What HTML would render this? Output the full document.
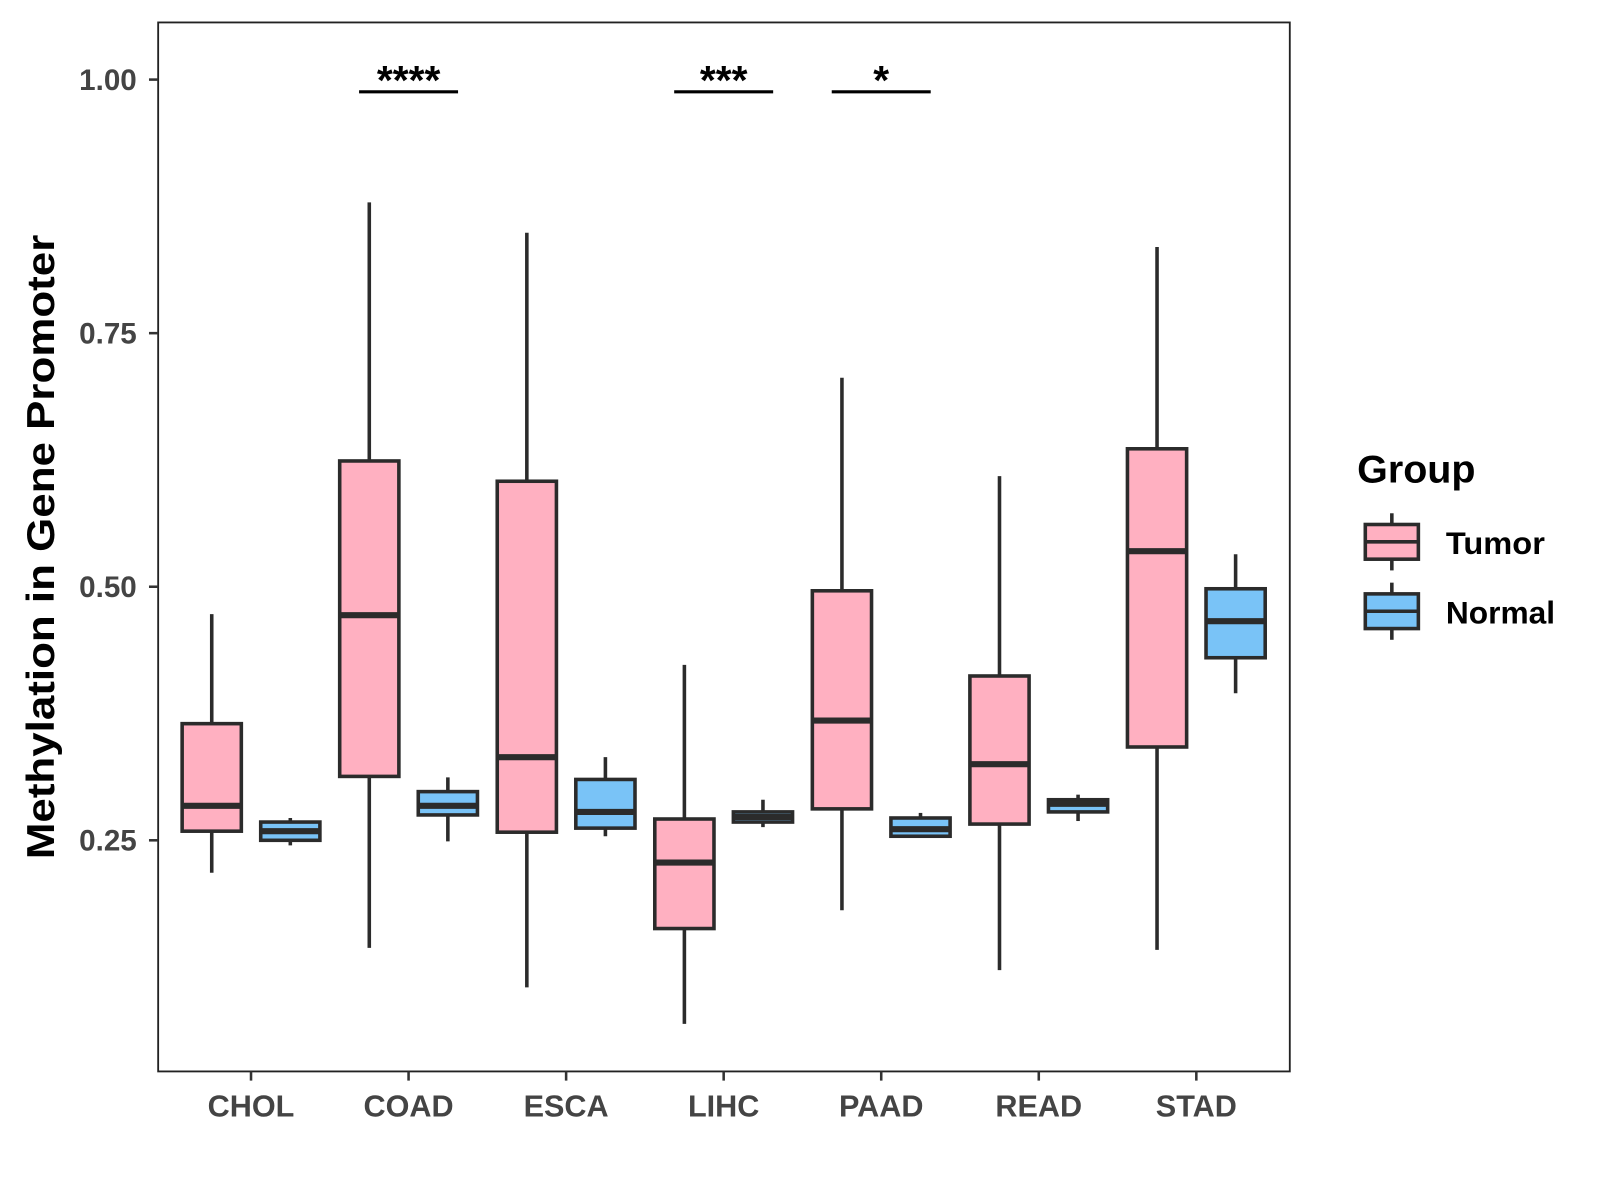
<!DOCTYPE html>
<html><head><meta charset="utf-8"><style>html,body{margin:0;padding:0;background:#fff}svg{display:block}text{font-family:"Liberation Sans",Arial,sans-serif;font-weight:bold}</style></head>
<body>
<svg id="chart" width="1600" height="1200" viewBox="0 0 1568 1176" xmlns="http://www.w3.org/2000/svg">
<rect x="0" y="0" width="1568" height="1176" fill="#fff"/>
<g id="marks"></g>
<rect x="155" y="22" width="1109" height="1028" fill="none" stroke="#222" stroke-width="1.8"/>
<g id="axes"></g>
<text transform="translate(53,536) rotate(-90)" text-anchor="middle" font-size="38" fill="#000" textLength="612" lengthAdjust="spacingAndGlyphs">Methylation in Gene Promoter</text>
<g>
<text x="1330" y="473" font-size="38" fill="#000" textLength="116" lengthAdjust="spacingAndGlyphs">Group</text>
<g>
<line x1="1364" y1="503" x2="1364" y2="559" stroke="#2b2b2b" stroke-width="3.5"/>
<rect x="1338" y="514" width="52" height="34" fill="#FFB0C1" stroke="#2b2b2b" stroke-width="3.5"/>
<line x1="1338" y1="531" x2="1390" y2="531" stroke="#2b2b2b" stroke-width="3.5"/>
<text x="1417" y="543" font-size="31" fill="#000" textLength="97" lengthAdjust="spacingAndGlyphs">Tumor</text></g>
<g>
<line x1="1364" y1="571" x2="1364" y2="627" stroke="#2b2b2b" stroke-width="3.5"/>
<rect x="1338" y="582" width="52" height="34" fill="#79C3F7" stroke="#2b2b2b" stroke-width="3.5"/>
<line x1="1338" y1="599" x2="1390" y2="599" stroke="#2b2b2b" stroke-width="3.5"/>
<text x="1417" y="611" font-size="31" fill="#000" textLength="107" lengthAdjust="spacingAndGlyphs">Normal</text></g>
</g>
</svg>
<script>
const categories = ["CHOL","COAD","ESCA","LIHC","PAAD","READ","STAD"];
const tumorLow = [0.218,0.144,0.105,0.069,0.181,0.122,0.142];
const tumorQ1 = [0.259,0.313,0.258,0.163,0.281,0.266,0.342];
const tumorMed = [0.284,0.472,0.332,0.228,0.368,0.325,0.535];
const tumorQ3 = [0.365,0.624,0.604,0.271,0.496,0.412,0.636];
const tumorHigh = [0.473,0.879,0.849,0.423,0.706,0.609,0.835];
const normalLow = [0.245,0.249,0.254,0.263,0.254,0.269,0.395];
const normalQ1 = [0.250,0.275,0.262,0.268,0.254,0.278,0.430];
const normalMed = [0.259,0.284,0.278,0.273,0.261,0.286,0.466];
const normalQ3 = [0.268,0.298,0.310,0.278,0.272,0.290,0.498];
const normalHigh = [0.272,0.312,0.332,0.290,0.277,0.295,0.532];
const yTicks = [0.25,0.50,0.75,1.00];
const yTickLabels = ["0.25","0.50","0.75","1.00"];
const sigCategories = ["COAD","LIHC","PAAD"];
const sigLabels = ["****","***","*"];

const NS="http://www.w3.org/2000/svg";
const y = v => 78 + (1 - v) * 994;
const x = i => 246 + i * 154.4;
function mk(tag, attrs, parent){const e=document.createElementNS(NS,tag);for(const k in attrs)e.setAttribute(k,attrs[k]);parent.appendChild(e);return e;}
const marks=document.getElementById('marks'), axes=document.getElementById('axes');
const sc="#2b2b2b", sw=3.5, bw=58;
function box(cx,lo,q1,md,q3,hi,fill,name){
  const g=mk('g',{},marks);
  
  
  mk('line',{x1:cx,x2:cx,y1:y(hi),y2:y(lo),stroke:sc,'stroke-width':sw},g);
  mk('rect',{x:cx-bw/2,y:y(q3),width:bw,height:Math.max(y(q1)-y(q3),0.5),fill:fill,stroke:sc,'stroke-width':sw},g);
  mk('line',{x1:cx-bw/2,x2:cx+bw/2,y1:y(md),y2:y(md),stroke:sc,'stroke-width':6},g);
}
categories.forEach((c,i)=>{
  box(x(i)-38.5,tumorLow[i],tumorQ1[i],tumorMed[i],tumorQ3[i],tumorHigh[i],"#FFB0C1","box-tumor-"+c.toLowerCase());
  box(x(i)+38.5,normalLow[i],normalQ1[i],normalMed[i],normalQ3[i],normalHigh[i],"#79C3F7","box-normal-"+c.toLowerCase());
  const t=mk('line',{x1:x(i),x2:x(i),y1:1050,y2:1059,stroke:"#333",'stroke-width':2.5},axes);
  
  
  const l=mk('text',{x:x(i),y:1094,'text-anchor':'middle','font-size':30,fill:'#444'},axes);
  l.textContent=c;
  
  
});
yTicks.forEach((v,i)=>{
  const t=mk('line',{x1:146,x2:155,y1:y(v),y2:y(v),stroke:"#333",'stroke-width':2.5},axes);
  
  
  const l=mk('text',{x:134,y:y(v)+10,'text-anchor':'end','font-size':29,fill:'#444'},axes);
  l.textContent=yTickLabels[i];
  
  
});
sigCategories.forEach((c,k)=>{
  const i=categories.indexOf(c);
  const ln=mk('line',{x1:x(i)-48.5,x2:x(i)+48.5,y1:90,y2:90,stroke:"#000",'stroke-width':3},marks);
  
  
  const t=mk('text',{x:x(i),y:92,'text-anchor':'middle','font-size':40,fill:'#000'},marks);
  t.textContent=sigLabels[k];
  
  
});
</script>
</body></html>
